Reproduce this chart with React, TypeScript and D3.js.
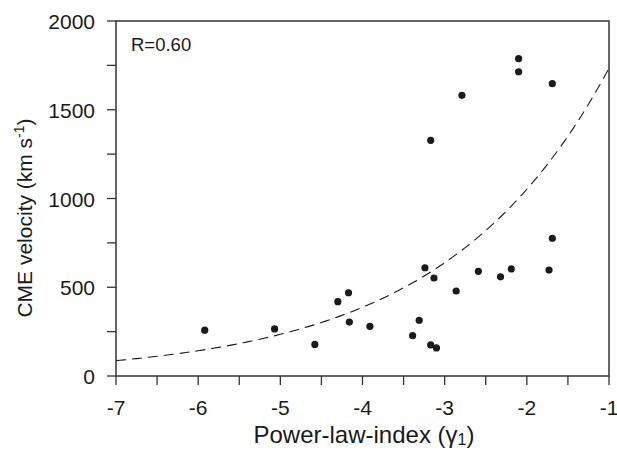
import React from "react";
import * as d3 from "d3";

const xValues = [-5.92, -5.07, -4.58, -4.30, -4.17, -4.16, -3.91, -3.39, -3.31, -3.24, -3.17, -3.13, -3.10, -2.86, -2.59, -2.32, -2.19, -1.73, -1.69, -3.17, -2.79, -2.10, -2.10, -1.69];
const yValues = [258, 265, 178, 419, 469, 304, 280, 227, 314, 610, 175, 552, 158, 479, 590, 559, 603, 597, 776, 1328, 1581, 1788, 1714, 1647];
const xTicks = [-7, -6, -5, -4, -3, -2, -1];
const xMinorTicks = [-6.5, -5.5, -4.5, -3.5, -2.5, -1.5];
const yTicks = [0, 500, 1000, 1500, 2000];
const yMinorTicks = [250, 750, 1250, 1750];
// exponential fit y = A * exp(B * x)
const fitA = 2860;
const fitB = 0.5;
const rLabel = "R=0.60";

export default function App() {
  const W = 617, H = 450;
  const left = 116, right = 609, top = 21, bottom = 376;
  const x = d3.scaleLinear().domain([-7, -1]).range([left, right]);
  const y = d3.scaleLinear().domain([0, 2000]).range([bottom, top]);
  const fitXs = d3.range(-7, -1.0001, 0.05).concat([-1]);
  const line = d3.line<number>().x((d) => x(d)).y((d) => y(fitA * Math.exp(fitB * d)));
  const font = "'Liberation Sans', Arial, Helvetica, sans-serif";
  const col = "#1a1a1a";
  return (
    <svg width={W} height={H} style={{ position: "absolute", left: 0, top: 0 }} fontFamily={font}>
      <rect x={0} y={0} width={W} height={H} fill="#fff" />
      <path d={line(fitXs) || ""} fill="none" stroke={col} strokeWidth={1.1} strokeDasharray="10,6" />
      {xValues.map((xv, i) => (
        <circle key={i} cx={x(xv)} cy={y(yValues[i])} r={3.6} fill={col} />
      ))}
      <rect x={left} y={top} width={right - left} height={bottom - top} fill="none" stroke="#333" strokeWidth={1.5} />
      {xTicks.map((t) => (
        <g key={"xt" + t}>
          <line x1={x(t)} x2={x(t)} y1={bottom} y2={bottom + 9} stroke="#333" strokeWidth={1.3} />
          <text x={x(t)} y={415} textAnchor="middle" fontSize={21} fill={col}>{t}</text>
        </g>
      ))}
      {xMinorTicks.map((t) => (
        <line key={"xm" + t} x1={x(t)} x2={x(t)} y1={bottom} y2={bottom + 9} stroke="#333" strokeWidth={1.3} />
      ))}
      {yTicks.map((t) => (
        <g key={"yt" + t}>
          <line x1={left - 9} x2={left} y1={y(t)} y2={y(t)} stroke="#333" strokeWidth={1.3} />
          <text x={95} y={y(t) + 8} textAnchor="end" fontSize={21} fill={col}>{t}</text>
        </g>
      ))}
      {yMinorTicks.map((t) => (
        <line key={"ym" + t} x1={left - 9} x2={left} y1={y(t)} y2={y(t)} stroke="#333" strokeWidth={1.3} />
      ))}
      <text x={131} y={51} fontSize={18.5} fill={col}>{rLabel}</text>
      <text x={364} y={443} textAnchor="middle" fontSize={24} fill={col}>
        Power-law-index (γ<tspan fontSize={16} dy={2}>1</tspan><tspan dy={-2}>)</tspan>
      </text>
      <text transform={`translate(32,${218}) rotate(-90)`} textAnchor="middle" fontSize={21} fill={col}>
        CME velocity (km s<tspan fontSize={14} dy={-8}>-1</tspan><tspan dy={8}>)</tspan>
      </text>
    </svg>
  );
}
